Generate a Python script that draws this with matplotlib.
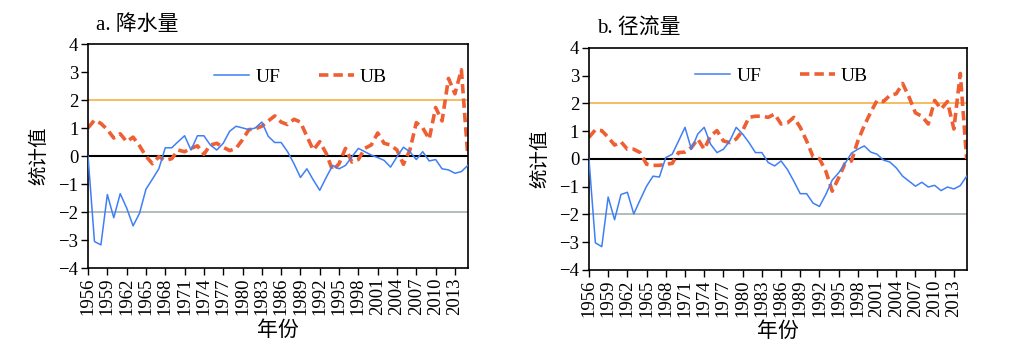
import matplotlib
matplotlib.use('Agg')
import matplotlib.pyplot as plt
import numpy as np

# Huruf: Latin pakai serif, Cina pakai Noto CJK
plt.rcParams['font.family'] = ['Liberation Serif', 'Noto Sans CJK SC']
plt.rcParams['axes.unicode_minus'] = True

tahun = list(range(1956, 2016))
label_tahun = list(range(1956, 2016, 3))

# a. 降水量
uf_hujan = [0, -3.05, -3.17, -1.37, -2.2, -1.34, -1.85, -2.49, -2.04, -1.18,
            -0.82, -0.45, 0.30, 0.30, 0.52, 0.73, 0.22, 0.73, 0.73, 0.40,
            0.22, 0.46, 0.89, 1.07, 1.01, 0.95, 1.01, 1.22, 0.71, 0.49,
            0.49, 0.16, -0.27, -0.76, -0.45, -0.85, -1.22, -0.76, -0.33, -0.45,
            -0.33, -0.02, 0.28, 0.16, 0.04, -0.05, -0.15, -0.39, -0.02, 0.32,
            0.16, -0.12, 0.16, -0.17, -0.12, -0.45, -0.49, -0.61, -0.55, -0.33]
ub_hujan = [1.01, 1.29, 1.17, 0.95, 0.65, 0.80, 0.52, 0.68, 0.37, 0.0,
            -0.27, -0.02, -0.15, -0.09, 0.22, 0.16, 0.28, 0.37, 0.07, 0.40,
            0.46, 0.32, 0.20, 0.28, 0.59, 0.95, 0.98, 1.07, 1.26, 1.44,
            1.22, 1.13, 1.32, 1.22, 0.71, 0.22, 0.52, 0.10, -0.51, -0.27,
            0.28, -0.21, -0.12, 0.28, 0.40, 0.83, 0.46, 0.40, 0.22, -0.29,
            0.22, 1.20, 1.01, 0.61, 1.74, 1.26, 2.78, 2.23, 3.09, 0.0]

# b. 径流量
uf_aliran = [0, -3.02, -3.16, -1.37, -2.19, -1.28, -1.2, -1.98, -1.47, -0.98,
             -0.62, -0.65, 0.05, 0.17, 0.65, 1.14, 0.35, 0.9, 1.14, 0.53,
             0.23, 0.35, 0.65, 1.14, 0.9, 0.59, 0.23, 0.23, -0.13, -0.25,
             -0.07, -0.38, -0.8, -1.25, -1.25, -1.59, -1.71, -1.28, -0.76, -0.5,
             -0.16, 0.21, 0.35, 0.47, 0.25, 0.17, -0.04, -0.11, -0.32, -0.62,
             -0.8, -0.98, -0.84, -1.01, -0.95, -1.14, -1.01, -1.08, -0.96, -0.62]
ub_aliran = [0.78, 1.05, 1.02, 0.78, 0.5, 0.62, 0.35, 0.35, 0.23, -0.19,
             -0.23, -0.23, -0.19, -0.16, 0.23, 0.25, 0.41, 0.72, 0.35, 0.84,
             1.02, 0.65, 0.59, 0.72, 1.02, 1.5, 1.54, 1.54, 1.5, 1.62,
             1.26, 1.3, 1.5, 1.14, 0.65, 0.08, 0.01, -0.44, -1.16, -0.68,
             -0.16, -0.07, 0.65, 1.2, 1.68, 2.11, 2.07, 2.29, 2.35, 2.72,
             2.23, 1.66, 1.54, 1.26, 2.11, 1.8, 2.07, 1.08, 3.08, 0.0]

fig = plt.figure(figsize=(10.32, 3.57), dpi=100)
ax1 = fig.add_axes([0.0853, 0.249, 0.368, 0.627])
ax2 = fig.add_axes([0.5707, 0.2437, 0.366, 0.622])

panel = [
    (ax1, uf_hujan, ub_hujan, 'a. 降水量', 0.56, 0.855),
    (ax2, uf_aliran, ub_aliran, 'b. 径流量', 0.51, 0.875),
]

for ax, uf, ub, judul, lx, ly in panel:
    ax.axhline(2, color='#f7b654', lw=1.3, zorder=1)
    ax.axhline(-2, color='#a9b8b8', lw=1.3, zorder=1)
    ax.axhline(0, color='black', lw=1.5, zorder=1)
    ax.plot(tahun, uf, color='#3f7ff5', lw=1.1, label='UF', zorder=3)
    ax.plot(tahun, ub, color='#ee5f33', lw=2.6, ls=(0, (2.6, 1.4)), label='UB', zorder=2)
    ax.set_xlim(1956, 2015)
    ax.set_ylim(-4, 4)
    ax.set_yticks(range(-4, 5))
    ax.set_xticks(label_tahun)
    ax.set_xticklabels([str(t) for t in label_tahun], rotation=90)
    ax.tick_params(labelsize=13.5, direction='out', length=5, width=1, pad=2)
    for s in ax.spines.values():
        s.set_linewidth(1.2)
    ax.set_ylabel('统计值', fontsize=14, labelpad=7)
    ax.set_xlabel('年份', fontsize=15, labelpad=4)
    ax.text(0.02, 1.04, judul, transform=ax.transAxes, fontsize=15,
            ha='left', va='bottom')
    ax.legend(loc='center', bbox_to_anchor=(lx, ly), ncol=2, frameon=False,
              fontsize=14, handlelength=1.8, columnspacing=2.0, handletextpad=0.3)

fig.savefig('out.png', dpi=100)
